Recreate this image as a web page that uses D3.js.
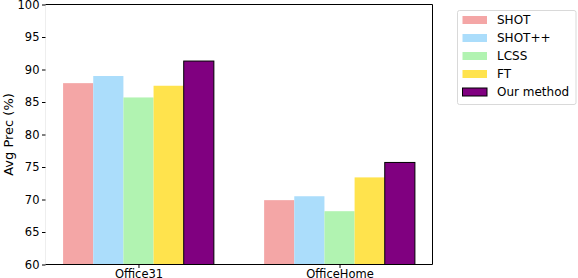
<!DOCTYPE html>
<html>
<head>
<meta charset="utf-8">
<script src="https://cdn.jsdelivr.net/npm/d3@7"></script>
<style>
  body { margin: 0; background: #fff; }
  text { font-family: "DejaVu Sans", sans-serif; fill: #000; }
</style>
</head>
<body>
<svg width="578" height="278"></svg>
<script>
// data
var datasets = ["Office31", "OfficeHome"];
var methods = ["SHOT", "SHOT++", "LCSS", "FT", "Our method"];
var shot = [87.9, 69.9];
var shotpp = [89.0, 70.5];
var lcss = [85.7, 68.2];
var ft = [87.5, 73.4];
var ours = [91.3, 75.7];
var yTicks = [60, 65, 70, 75, 80, 85, 90, 95, 100];

var series = [shot, shotpp, lcss, ft, ours];
var colors = ["#F4A6A6", "#ABDDFB", "#B1F3B1", "#FFE34D", "#800080"];

var svg = d3.select("svg");
var pLeft = 45.5, pRight = 432.5, pTop = 4.5, pBottom = 264.5;
var fs = "11.5px";

var barW = 0.15;
// matplotlib style linear x with 5% margins
var x = d3.scaleLinear().domain([-0.4625, 1.4625]).range([pLeft, pRight]);
var y = d3.scaleLinear().domain([60, 100]).range([pBottom, pTop]);

var g = svg.append("g");

series.forEach(function(vals, s) {
    g.selectAll("rect.s" + s)
        .data(vals)
        .enter()
        .append("rect")
        .attr("class", "s" + s)
        .attr("x", function(d, i) { return x(i + (s - 2.5) * barW); })
        .attr("width", x(barW) - x(0))
        .attr("y", function(d) { return y(d); })
        .attr("height", function(d) { return y(60) - y(d); })
        .style("fill", colors[s])
        .style("stroke", s == 4 ? "#000" : "none")
        .style("stroke-width", "1px");
});

// spines
svg.append("line").attr("x1", pLeft).attr("x2", pLeft).attr("y1", pTop).attr("y2", pBottom)
    .style("stroke", "#eeeeee").style("stroke-width", "1px");
svg.append("line").attr("x1", pLeft).attr("x2", pRight).attr("y1", pTop).attr("y2", pTop)
    .style("stroke", "#000").style("stroke-width", "1px");
svg.append("line").attr("x1", pRight).attr("x2", pRight).attr("y1", pTop).attr("y2", pBottom)
    .style("stroke", "#000").style("stroke-width", "1px");

// y axis
var yAxis = d3.axisLeft(y).tickValues(yTicks).tickSize(3.5).tickPadding(2.5);
svg.append("g")
    .attr("transform", "translate(" + pLeft + ",0)")
    .call(yAxis)
    .call(function(a) {
        a.select(".domain").remove();
        a.selectAll("text").style("font-size", fs).style("font-family", "DejaVu Sans");
        a.selectAll("line").style("stroke", "#000");
    });

// x axis
var xAxis = d3.axisBottom(x).tickValues([0, 1]).tickFormat(function(d) { return datasets[d]; })
    .tickSize(3.5).tickPadding(2);
svg.append("g")
    .attr("transform", "translate(0," + pBottom + ")")
    .call(xAxis)
    .call(function(a) {
        a.select(".domain").attr("d", "M" + pLeft + ",0H" + pRight).style("stroke", "#000");
        a.selectAll("text").style("font-size", fs).style("font-family", "DejaVu Sans");
        a.selectAll("line").style("stroke", "#000");
    });

// y label
svg.append("text")
    .attr("transform", "translate(13," + ((pTop + pBottom) / 2) + ") rotate(-90)")
    .style("text-anchor", "middle")
    .style("font-size", "13px")
    .text("Avg Prec (%)");

// legend
var lg = svg.append("g").attr("transform", "translate(457.5,10.5)");
lg.append("rect")
    .attr("width", 118.5).attr("height", 94)
    .attr("rx", 2)
    .style("fill", "#fff")
    .style("stroke", "#d9d9d9")
    .style("stroke-width", "1px");

var item = lg.selectAll("g.item")
    .data(methods)
    .enter()
    .append("g")
    .attr("class", "item")
    .attr("transform", function(d, i) { return "translate(5," + (9.5 + i * 18) + ")"; });

item.append("rect")
    .attr("y", -4)
    .attr("width", 24.5).attr("height", 8)
    .style("fill", function(d, i) { return colors[i]; })
    .style("stroke", function(d, i) { return i == 4 ? "#000" : "none"; })
    .style("stroke-width", "1px");

item.append("text")
    .attr("x", 34.5)
    .attr("y", 4.3)
    .style("font-size", "12px")
    .text(function(d) { return d; });
</script>
</body>
</html>
